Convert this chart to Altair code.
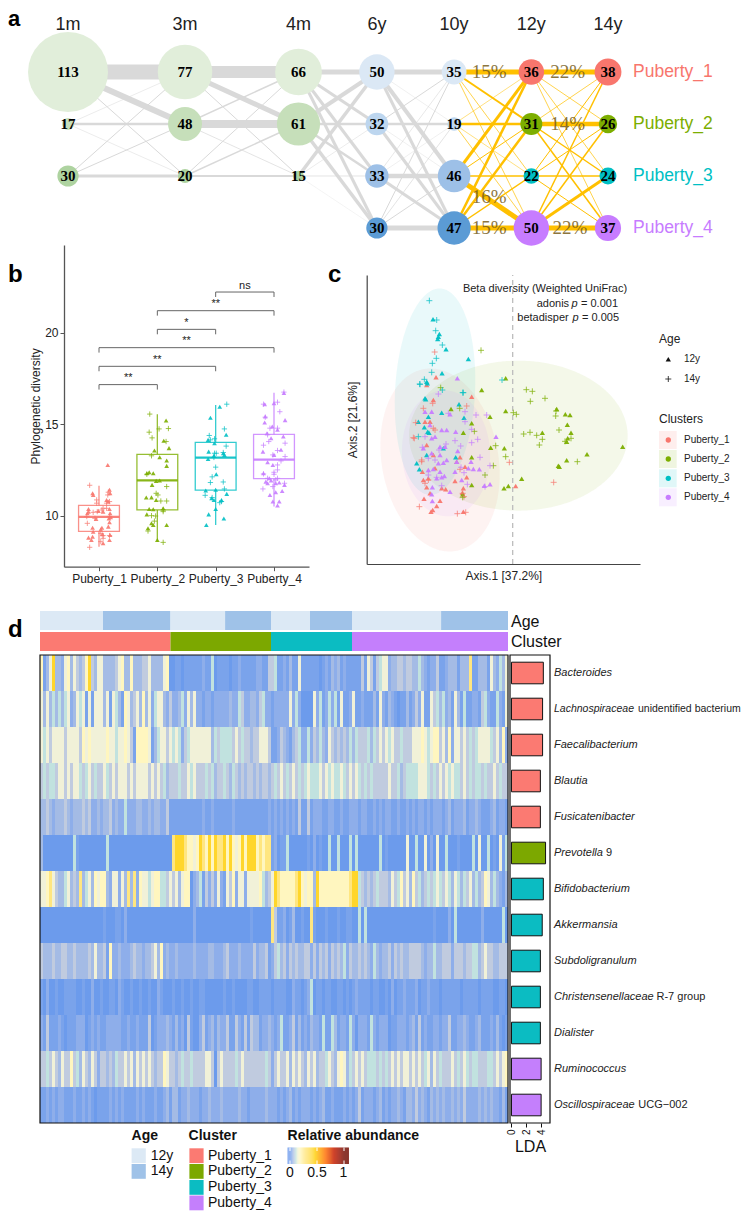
import numpy as np
import pandas as pd
import altair as alt

PW = 733
W, H = 733, 1206
SANS, SERIF = "Liberation Sans", "Liberation Serif"
CL = ["Puberty_1", "Puberty_2", "Puberty_3", "Puberty_4"]
CC = ["#F8766D", "#7CAE00", "#00BFC4", "#C77CFF"]
PLUS = "M-1,0L1,0M0,-1L0,1"

# ---------- panel a
times = ["1m", "3m", "4m", "6y", "10y", "12y", "14y"]
time_pos = [0, 1, 1.97, 2.64, 3.3, 3.96, 4.615]
counts = [[113, 17, 30], [77, 48, 20], [66, 61, 15], [50, 32, 33, 30],
          [35, 19, 46, 47], [36, 31, 22, 50], [38, 26, 24, 37]]
green = ["#e1eeda", "#c6dfba", "#aed3a0"]
blue = ["#dbe8f5", "#bdd6ef", "#9dc0e7", "#5b9bd5"]
node_cols = [green, green, green, blue, blue, CC, CC]
flows = [
    [[15, 6, 1], [0.5, 2.5, 0.5], [1, 1, 3]],
    [[12, 5, 1], [1.5, 8, 0.7], [1, 1.5, 2]],
    [[5, 3, 3, 3], [4, 2.5, 2.5, 3.5], [3.5, 0.5, 0.7, 0.3]],
    [[5, 0.4, 4, 3], [1, 2.5, 0.4, 3], [0.6, 0.4, 4.5, 3], [1, 0.7, 1, 5]],
    [[5, 2, 0.7, 0.7], [0.5, 2.5, 0.5, 0.7], [3, 1, 1.5, 5], [2.5, 2.5, 1.5, 5]],
    [[5, 0.7, 0.7, 0.7], [0.7, 4.5, 1.5, 1.5], [1, 1, 1.5, 1], [1.5, 1.5, 3, 5]],
]
pct_text = ["15%", "22%", "14%", "16%", "15%", "22%"]
pct_x = [3.6, 4.27, 4.27, 3.6, 3.6, 4.29]
pct_y = [1.0, 1.0, 2.0, 3.4, 4.0, 4.0]

# ---------- panel b
box_q1 = [9.14, 10.31, 11.4, 12.02]
box_med = [9.93, 11.93, 13.17, 13.06]
box_q3 = [10.56, 13.35, 14.0, 14.44]
box_lo = [8.3, 8.58, 9.49, 10.5]
box_hi = [11.64, 15.54, 16.05, 16.72]
pd_tri = [
 [(.15,12.77),(-.11,11.22),(-.10,11.13),(.18,11.41),(.19,11.22),(-.18,10.36),(-.18,10.22),(-.20,10.13),(.18,10.36),(.19,10.13),(-.05,9.82),(.17,9.85),(.2,9.91),(-.11,9.34),(-.10,9.12),(.05,9.34),(.03,9.25),(.18,9.64),(.16,9.4),(.19,8.94),(.18,8.67),(-.11,8.85),(-.18,8.8),(-.13,8.67),(.07,8.49),(.06,8.98),(.07,10.22),(-.01,10.26),(.13,10.86),(.16,10.77)],
 [(.15,15.2),(-.05,13.56),(.04,13.19),(.16,13.01),(.16,12.72),(.2,13.69),(.11,14.09),(-.18,12.32),(-.14,12.37),(-.07,12.32),(-.02,11.9),(.04,11.92),(-.09,11.68),(-.19,10.99),(-.10,11.0),(-.02,10.86),(-.14,10.36),(-.07,10.35),(.1,10.4),(-.18,10.07),(-.10,9.58),(-.07,9.49),(.16,9.49),(-.16,9.31),(0,8.67)],
 [(.07,15.95),(-.09,15.35),(.18,14.42),(-.13,14.14),(-.02,13.96),(-.12,13.5),(-.03,13.28),(.13,13.41),(-.13,13.1),(.01,12.26),(-.17,11.37),(0,11.41),(.19,11.19),(-.07,10.95),(-.03,10.86),(.1,10.86),(-.12,10.07),(0,10.36),(-.16,9.49),(.14,9.84),(.15,13.32)],
 [(.17,16.7),(-.16,16.09),(0,16.15),(.19,15.22),(-.15,15.42),(-.16,15.09),(-.03,14.87),(.06,14.69),(-.12,14.5),(-.05,14.23),(.16,14.32),(0,13.32),(-.11,12.92),(-.02,12.77),(-.18,12.32),(-.08,12.04),(-.14,11.86),(.03,11.77),(.09,11.81),(.18,11.68),(-.07,11.13),(.14,11.35),(.03,11.28),(-.02,10.77),(.09,10.77),(.06,10.55),(-.11,11.77),(-.05,11.92),(-.19,13.5),(.12,13.6)],
]
pd_plus = [
 [(-.16,11.66),(.16,11.28),(.15,11.13),(.18,10.77),(-.04,10.86),(-.03,10.22),(.07,10.4),(-.10,10.18),(.13,10.4),(.05,10.31),(.18,9.95),(-.21,9.95),(-.07,9.85),(-.2,9.58),(.03,9.03),(.07,8.91),(.07,8.76),(.18,8.91),(.03,8.58),(-.16,8.27),(-.04,10.68),(.13,10.68)],
 [(-.13,15.55),(-.14,14.56),(.03,14.74),(.19,14.76),(-.09,14.25),(.15,14.05),(-.10,13.27),(-.18,12.26),(.16,11.59),(-.02,11.22),(.01,11.13),(.06,10.8),(.16,10.8),(.1,10.22),(-.10,10.0),(-.03,9.98),(-.16,9.16),(.1,8.54),(-.05,9.7),(.1,10.31)],
 [(.19,16.09),(.15,14.74),(-.11,14.38),(-.09,14.14),(-.02,14.2),(.18,13.8),(.01,13.41),(.13,13.45),(-.03,13.18),(0,12.65),(-.06,12.12),(.13,11.84),(-.09,11.81),(.15,11.46),(-.18,11.11),(-.06,10.99),(.1,10.77),(.07,10.71),(-.02,13.41)],
 [(.17,16.75),(-.18,16.09),(.06,16.2),(.1,15.68),(-.15,15.38),(.06,14.78),(-.07,14.78),(-.11,14.42),(.19,13.96),(-.18,13.85),(-.09,14.05),(-.02,13.32),(.06,13.56),(.19,13.23),(.06,12.77),(.12,12.99),(0,12.26),(.06,12.5),(-.18,12.28),(.03,11.95),(.18,11.77),(-.19,11.46),(-.02,11.59),(-.11,12.04),(.06,12.04),(0,12.37)],
]
br_left = [3, 2, 2, 1, 1, 1]
br_right = [4, 4, 3, 4, 3, 2]
br_y = [22.22, 21.2, 20.18, 19.18, 18.16, 17.16]
br_label = ["ns", "**", "*", "**", "**", "**"]

# ---------- panel c (axis values in thousandths)
pc_tri = [
 [(-230,148),(-258,125),(-123,90),(-238,80),(-263,15),(-248,15),(-258,-55),(-158,-92),(-168,-105),(-143,-120),(-233,-125),(-138,-152),(-173,-163),(-268,-160),(-258,-182),(-213,-185),(-201,-188),(-148,-185),(-151,-198),(9,-178),(-266,-216),(-218,-222),(-228,-238),(-240,-250),(-245,-255),(-148,-255),(-253,-155),(-248,-200),(-271,-135),(-238,-85)],
 [(-21,145),(-93,110),(-21,47),(-68,30),(-123,10),(-148,-18),(-185,53),(-25,-65),(-66,-63),(-123,-92),(27,-156),(-13,-178),(-26,-185),(-123,-175),(132,53),(158,37),(172,35),(164,6),(175,-18),(89,-18),(165,-35),(162,-45),(330,-60),(223,-83),(162,-101),(137,-117),(140,-120),(-150,-203)],
 [(-239,322),(-220,278),(-223,270),(-225,263),(-200,232),(-133,203),(-212,160),(-258,135),(-263,85),(-256,130),(-261,82),(-161,67),(-213,42),(-146,27),(-253,30),(-265,-2),(-255,-15),(-251,-18),(-208,-65),(-171,-92),(-288,-110),(-280,-128),(-258,-85),(-283,15)],
 [(-166,145),(-263,45),(-243,45),(-188,37),(-248,5),(-213,-10),(-198,-10),(-171,-15),(-50,-30),(-233,-30),(-243,-35),(-268,-65),(-218,-60),(-203,-60),(-165,-73),(-243,-80),(-218,-85),(-198,-100),(-208,-108),(-223,-110),(-168,-105),(-125,-105),(-238,-127),(-253,-130),(-218,-135),(-173,-135),(-133,-125),(-118,-127),(-100,-128),(-205,-148),(-213,-152),(-228,-155),(-153,-160),(-68,-173),(-85,-177),(-241,-182),(-188,-195),(-243,-203),(-241,-223)],
]
pc_plus = [
 [(-234,224),(-10,-107),(123,-167),(-280,-240),(-166,-261),(-141,-257),(-138,62),(-298,-33),(-268,55),(-158,-128),(-233,-10),(-273,-105),(-253,-160),(-150,-200),(-240,70),(-291,12),(-238,-5),(-295,-35),(-273,-100),(-263,-170),(-146,-210)],
 [(-95,229),(-216,117),(-159,55),(-115,-14),(2,42),(11,37),(41,111),(59,106),(97,85),(53,76),(130,47),(129,32),(139,-10),(33,-22),(52,-17),(72,-26),(89,-38),(80,-55),(157,-44),(175,-35),(-21,-90),(-51,-57),(-83,-145),(194,-105),(-58,-117),(-150,-212)],
 [(-250,378),(-228,320),(-231,288),(-211,245),(-229,205),(-241,190),(-243,163),(-278,127),(-32,140),(-148,102),(-279,128),(-265,142),(-150,102),(-211,110),(-283,-30)],
 [(-223,98),(-143,45),(-110,35),(-78,35),(-193,40),(-143,15),(-123,-8),(-105,-38),(-173,-42),(-123,-48),(-156,-58),(-200,-52),(-271,-62),(-221,-70),(-98,-92),(-68,-117),(-253,-95),(-233,-100),(-146,-138),(-253,-145),(-228,-152),(-136,-173),(-213,-177),(-83,-180),(-263,-30),(-155,-122)],
]
# ellipse centre x, centre y, semi-axis x, semi-axis y, tilt in degrees
ell_par = [(-218, -100, 175, 277, 10), (17, -27, 328, 225, 0), (-233, 105, 120, 310, -3), (-200, -80, 132, 189, 3)]

# ---------- panel d
taxa_it = ["Bacteroides", "Lachnospiraceae", "Faecalibacterium", "Blautia", "Fusicatenibacter", "Prevotella",
           "Bifidobacterium", "Akkermansia", "Subdoligranulum", "Christensenellaceae", "Dialister", "Ruminococcus", "Oscillospiraceae"]
taxa_rest = {"Prevotella": ("9", 52), "Christensenellaceae": ("R-7 group", 102.5), "Oscillospiraceae": ("UCG\u2212002", 84.3)}
long_taxon = ("Lachnospiraceae", "unidentified bacterium", 84.0)
lda = [4.3, 4.2, 4.2, 3.9, 3.9, 4.6, 4.3, 4.15, 3.9, 3.9, 3.9, 4.0, 4.0]
lda_c = [0, 0, 0, 0, 0, 1, 2, 2, 2, 2, 2, 3, 3]
age_end = [21, 43.5, 61.7, 77, 90, 104, 133.7, 156]
age_lab = ["12y", "14y"] * 4
clu_end = [43.5, 77, 104, 156]
levels = [0, .012, .03, .05, .075, .1, .13, .18, .27, .42]
heat_rows = [
 "7136933267 3643479436 6333346733 7333446333 3670011011 1111211501 1110112111 11221144 5112131161 1111101213 2312111114 1641456623 3443443353 2122411233 3133381133 31632536",
 "6363535356 2365616166 6361653176 3463736256 6324223526 3622122122 2223225422 33245221 2222262520 0006251252 5161126112 1113162132 1011312426 1164535231 6315112214 52115216",
 "6564666646 6664767666 6676656676 4177776135 6646565245 6666666354 5555464544 34466641 1243213452 2524353264 3434353544 4535464656 4454446667 6567746372 6646454566 66546372",
 "4545546646 4665456454 4654646664 6466664646 4534445446 5644454534 4543543434 43434434 5464546454 5655564656 5565464654 5454444464 4534555566 6545464656 5546454554 54464544",
 "3343233343 2333434223 2334232252 2233223233 2241111111 1111211211 1111211111 11111121 2121212141 1412221122 1121122212 2112121221 1211212122 1212221231 2223122321 11231221",
 "3000000000 0510000000 0050000000 0000000000 0000899987 7679879798 8979767979 99787881 2011500000 0102010050 0500050500 0000050100 0000600500 6020600500 0100005060 05010615",
 "6678643356 3438356376 7732662638 3827665677 5546463677 0235142426 2164726626 66675346 9877777897 6773977777 7777789954 3434544436 4574637453 4545654653 6535463534 76353213",
 "0000000000 0000000000 0100011020 0000000000 0000000000 0200000000 0000000000 10000008 4112013001 0081000100 0100110050 5000000000 0000000000 0001000020 5000000002 00000050",
 "4333433443 3433334363 3417223222 3433233463 7232232222 2322223322 2342223222 24233412 4534243433 4424243424 3435243343 4325323342 4343344443 2335334442 4443445534 64433444",
 "1020010011 1100100200 1001102100 1001001002 1000100100 1001100000 0100100001 10011110 1111002110 1250110110 0110101211 1101100102 0112111201 1211101111 1101111101 11100110",
 "2141112101 1122201212 1122222112 1121114012 2232131204 1002412313 2241142141 43312232 1251124131 2132215115 3122152022 2152122201 1222123141 2112212241 1223211231 11213101",
 "4454643644 7453643642 4434354464 6364646434 4764434544 5444466404 6444454644 44444542 4644636464 3646344564 3676354646 4555454546 4646646464 5636454446 4546545544 45546467",
 "1121212211 1211212101 1112121211 1121211121 1231331223 2221223222 3222223221 22222322 2121231212 2212123112 1112121241 2221231212 2321332423 2132323223 2324222232 32322131",
]
abund_dom = [0, .03, .075, .13, .18, .27, .45, .65, .8, 1]
abund_col = ["#6c9bec", "#8eaeea", "#c0cbdf", "#f1f1d8", "#fff6bf", "#ffe680", "#ffd200", "#ff6a00", "#c81e00", "#7a1a10"]
AGE_C = {"12y": "#dce9f5", "14y": "#9fc2e8"}

# ---------- helpers
L = []
def px(v):
    return v - 8

def t(s, x, y, size=12, align="left", baseline="middle", color="#000", weight="normal", style="normal", font=SANS, opacity=1, angle=0):
    L.append(alt.Chart(alt.Data(values=[{"t": s}])).mark_text(
        fontSize=size, align=align, baseline=baseline, color=color, fontWeight=weight,
        fontStyle=style, font=font, opacity=opacity, angle=angle
    ).encode(text="t:N", x=alt.value(px(x)), y=alt.value(px(y))))

def box(x1, x2, y1, y2, color, opacity=1):
    L.append(alt.Chart(alt.Data(values=[{"a": 1}])).mark_rect(color=color, opacity=opacity).encode(
        x=alt.value(px(x1)), x2=alt.value(px(x2)), y=alt.value(px(y1)), y2=alt.value(px(y2))))

# ---------- panel a scales
ax_sc = alt.Scale(domain=[-0.513, 5.752], range=[0, PW])
ay_sc = alt.Scale(domain=[-0.231, 4.327], range=[0, 237])
AX = lambda f: alt.X(f, type="quantitative", scale=ax_sc, axis=None)
AY = lambda f: alt.Y(f, type="quantitative", scale=ay_sc, axis=None)

edges = []
for i, m in enumerate(flows):
    for r, row in enumerate(m):
        for c, w in enumerate(row):
            edges.append(dict(x=time_pos[i], x2=time_pos[i + 1], y=r + 1, y2=c + 1, w=w,
                              c="#ffc000" if i >= 4 else "#d9d9d9"))
edges_df = pd.DataFrame(edges)
L.append(alt.Chart(edges_df[edges_df.c == "#d9d9d9"]).mark_rule().encode(
    x=AX("x"), x2="x2:Q", y=AY("y"), y2="y2:Q", size=alt.Size("w:Q", scale=None),
    color=alt.Color("c:N", scale=None)))
L.append(alt.Chart(edges_df[edges_df.c != "#d9d9d9"]).mark_rule().encode(
    x=AX("x"), x2="x2:Q", y=AY("y"), y2="y2:Q", size=alt.Size("w:Q", scale=None),
    color=alt.Color("c:N", scale=None)))
nodes = pd.DataFrame([dict(x=time_pos[i], y=r + 1, n=n, c=node_cols[i][r])
                      for i, col in enumerate(counts) for r, n in enumerate(col)])
L.append(alt.Chart(nodes).mark_circle(opacity=1).encode(
    x=AX("x"), y=AY("y"),
    size=alt.Size("n:Q", legend=None, scale=alt.Scale(type="pow", exponent=2, domain=[0, 113], range=[0, 6400])),
    color=alt.Color("c:N", scale=None)))
L.append(alt.Chart(nodes).mark_text(font=SERIF, fontWeight="bold", fontSize=15, color="#000").encode(
    x=AX("x"), y=AY("y"), text="n:Q"))
L.append(alt.Chart(pd.DataFrame({"x": pct_x, "y": pct_y, "t": pct_text})).mark_text(
    font=SERIF, fontSize=19, color="#7a5f1c", opacity=0.85).encode(x=AX("x"), y=AY("y"), text="t:N"))
L.append(alt.Chart(pd.DataFrame({"x": time_pos, "t": times, "y": [0.096] * 7})).mark_text(
    font=SANS, fontSize=18, color="#222").encode(x=AX("x"), y=AY("y"), text="t:N"))
for r, (n, c) in enumerate(zip(CL, CC)):
    t(n, 633, 72 + 52 * r, size=17.5, color=c, weight="normal")

# ---------- panel b
bx_sc = alt.Scale(domain=[0.4, 4.6], range=[px(64), px(309)])
by_sc = alt.Scale(domain=[7.21, 24.79], range=[px(566.7), px(245)], nice=False, zero=False)
BX = lambda f, axis=None: alt.X(f, type="quantitative", scale=bx_sc, axis=axis, title=None)
BY = lambda f, axis=None: alt.Y(f, type="quantitative", scale=by_sc, axis=axis, title=None)
bxa = alt.Axis(orient="bottom", offset=-(H - px(566.7)), values=[1, 2, 3, 4], labelExpr="'Puberty_' + datum.value",
               grid=False, domainColor="#555", domainWidth=1.3, tickColor="#555", tickSize=4, labelFontSize=12,
               labelColor="#222", labelFont=SANS, title=None, labelOverlap=False, labelPadding=3)
bya = alt.Axis(orient="left", offset=-px(64), values=[10, 15, 20], grid=False, domainColor="#555", domainWidth=1.3,
               tickColor="#555", tickSize=4, labelFontSize=12, labelColor="#222", labelFont=SANS,
               title="Phylogenetic diversity", titleFontSize=12, titleFontWeight="normal", titleFont=SANS,
               titleColor="#222", titlePadding=2)
bdf = pd.DataFrame({"x": [1, 2, 3, 4], "q1": box_q1, "med": box_med, "q3": box_q3, "lo": box_lo, "hi": box_hi, "c": CC})
bdf["l"] = bdf.x - .35
bdf["r"] = bdf.x + .35
L.append(alt.Chart(bdf).mark_rule(strokeWidth=1.3, opacity=.8).encode(
    x=alt.X("x", type="quantitative", scale=bx_sc, axis=bxa),
    y=alt.Y("lo", type="quantitative", scale=by_sc, axis=bya), y2="q1:Q", color=alt.Color("c:N", scale=None)))
L.append(alt.Chart(bdf).mark_rule(strokeWidth=1.3, opacity=.8).encode(
    x=BX("x"), y=BY("q3"), y2="hi:Q", color=alt.Color("c:N", scale=None)))
L.append(alt.Chart(bdf).mark_rect(fillOpacity=0, strokeWidth=1.3, strokeOpacity=.8).encode(
    x=BX("l"), x2="r:Q", y=BY("q1"), y2="q3:Q", stroke=alt.Stroke("c:N", scale=None)))
L.append(alt.Chart(bdf).mark_rule(strokeWidth=2.2, opacity=.9).encode(
    x=BX("l"), x2="r:Q", y=BY("med"), color=alt.Color("c:N", scale=None)))
rows = [dict(x=i + 1 + o, y=v, c=CC[i]) for i, s in enumerate(pd_tri) for o, v in s]
L.append(alt.Chart(pd.DataFrame(rows)).mark_point(shape="triangle-up", filled=True, size=22, opacity=.9, strokeWidth=0).encode(
    x=BX("x"), y=BY("y"), color=alt.Color("c:N", scale=None)))
rows = [dict(x=i + 1 + o, y=v, c=CC[i]) for i, s in enumerate(pd_plus) for o, v in s]
L.append(alt.Chart(pd.DataFrame(rows)).mark_point(shape=PLUS, filled=False, size=28, opacity=.9, strokeWidth=.8).encode(
    x=BX("x"), y=BY("y"), color=alt.Color("c:N", scale=None)))
brd = pd.DataFrame({"l": br_left, "r": br_right, "y": br_y, "t": br_label})
brd["tip"] = brd.y - .27
brd["m"] = (brd.l + brd.r) / 2
brd["ty"] = brd.y + .34
for enc in [dict(x=BX("l"), x2="r:Q", y=BY("y")), dict(x=BX("l"), y=BY("tip"), y2="y:Q"), dict(x=BX("r"), y=BY("tip"), y2="y:Q")]:
    L.append(alt.Chart(brd).mark_rule(color="#666", strokeWidth=1).encode(**enc))
L.append(alt.Chart(brd).mark_text(fontSize=11, font=SANS, color="#222", baseline="middle").encode(
    x=BX("m"), y=BY("ty"), text="t:N"))

# ---------- panel c
cx_sc = alt.Scale(domain=[-.438, .382], range=[px(366.7), px(640)], nice=False, zero=False)
cy_sc = alt.Scale(domain=[-.412, .455], range=[px(564), px(275)], nice=False, zero=False)
CXe = lambda f, axis=None: alt.X(f, type="quantitative", scale=cx_sc, axis=axis, title=None)
CYe = lambda f, axis=None: alt.Y(f, type="quantitative", scale=cy_sc, axis=axis, title=None)
cxa = alt.Axis(orient="bottom", offset=-(H - px(564)), labels=False, ticks=False, grid=False, domainColor="#444",
               domainWidth=1.2, title="Axis.1 [37.2%]", titleFontSize=12, titleFontWeight="normal", titleFont=SANS,
               titleColor="#222", titlePadding=6)
cya = alt.Axis(orient="left", offset=-px(366.7), labels=False, ticks=False, grid=False, domainColor="#444",
               domainWidth=1.2, title="Axis.2 [21.6%]", titleFontSize=12, titleFontWeight="normal", titleFont=SANS,
               titleColor="#222", titlePadding=7)
def ellipse(cx, cy, a, b, deg):
    th = np.radians(deg)
    cs, sn = np.cos(th), np.sin(th)
    A = (cs / a) ** 2 + (sn / b) ** 2
    B = 2 * cs * sn * (1 / a ** 2 - 1 / b ** 2)
    C = (sn / a) ** 2 + (cs / b) ** 2
    wx = np.sqrt((a * cs) ** 2 + (b * sn) ** 2)
    dx = -wx * np.cos(np.linspace(0, np.pi, 220))
    disc = np.clip((B * dx) ** 2 - 4 * C * (A * dx ** 2 - 1), 0, None)
    y1 = (-B * dx - np.sqrt(disc)) / (2 * C)
    y2 = (-B * dx + np.sqrt(disc)) / (2 * C)
    return pd.DataFrame({"x": (cx + dx) / 1000, "y": (cy + y1) / 1000, "y2": (cy + y2) / 1000})
for i, p in enumerate(ell_par):
    L.append(alt.Chart(ellipse(*p)).mark_area(color=CC[i], opacity=.085).encode(
        x=CXe("x"), y=CYe("y"), y2="y2:Q"))
L.append(alt.Chart(pd.DataFrame({"x": [0.0], "y": [-.412], "y2": [.455]})).mark_rule(
    color="#bdbdbd", strokeDash=[5, 4], strokeWidth=1.3).encode(
    x=alt.X("x", type="quantitative", scale=cx_sc, axis=cxa),
    y=alt.Y("y", type="quantitative", scale=cy_sc, axis=cya), y2="y2:Q"))
rows = [dict(x=a / 1000, y=b / 1000, c=CC[i]) for i, s in enumerate(pc_tri) for a, b in s]
L.append(alt.Chart(pd.DataFrame(rows)).mark_point(shape="triangle-up", filled=True, size=28, opacity=.95, strokeWidth=0).encode(
    x=CXe("x"), y=CYe("y"), color=alt.Color("c:N", scale=None)))
rows = [dict(x=a / 1000, y=b / 1000, c=CC[i]) for i, s in enumerate(pc_plus) for a, b in s]
L.append(alt.Chart(pd.DataFrame(rows)).mark_point(shape=PLUS, filled=False, size=36, opacity=.9, strokeWidth=.8).encode(
    x=CXe("x"), y=CYe("y"), color=alt.Color("c:N", scale=None)))
t("Beta diversity (Weighted UniFrac)", 545, 289, size=11, align="center", color="#222")
t("adonis", 536.7, 303.5, size=11, color="#222")
t("p", 571.5, 303.5, size=11, style="italic", color="#222")
t("= 0.001", 581, 303.5, size=11, color="#222")
t("betadisper", 517.3, 318, size=11, color="#222")
t("p", 572.5, 318, size=11, style="italic", color="#222")
t("= 0.005", 582, 318, size=11, color="#222")
t("Age", 659, 339, size=12, color="#222")
t("Clusters", 659, 419, size=12, color="#222")
for sh, sz, y, lab, filled in [("triangle-up", 28, 359.3, "12y", True), (PLUS, 36, 379, "14y", False)]:
    L.append(alt.Chart(alt.Data(values=[{"a": 1}])).mark_point(
        shape=sh, size=sz, filled=filled, color="#111", opacity=1, strokeWidth=0 if filled else .8
    ).encode(x=alt.value(px(668.3)), y=alt.value(px(y))))
    t(lab, 684, y, size=10, color="#222")
for i, (n, c, y) in enumerate(zip(CL, CC, [440, 459, 478.3, 497.3])):
    box(659, 676.7, y - 9, y + 9, c, .12)
    L.append(alt.Chart(alt.Data(values=[{"a": 1}])).mark_circle(color=c, size=28, opacity=1).encode(
        x=alt.value(px(668.3)), y=alt.value(px(y))))
    t(n, 684, y, size=10, color="#222")

# ---------- panel d
hx_sc = alt.Scale(domain=[0, 156], range=[px(40), px(508)], nice=False, zero=False)
hy_sc = alt.Scale(domain=[0, 13], range=[px(655), px(1123)], nice=False, zero=False)
HX = lambda f: alt.X(f, type="quantitative", scale=hx_sc, axis=None, title=None)
HY = lambda f: alt.Y(f, type="quantitative", scale=hy_sc, axis=None, title=None)
cells = []
for r, s in enumerate(heat_rows):
    s = (s.replace(" ", "") + "1" * 156)[:156]
    for c, d in enumerate(s):
        cells.append(dict(c=c, c2=c + 1, r=r, r2=r + 1, v=levels[int(d)]))
abund_sc = alt.Scale(domain=abund_dom, range=abund_col, clamp=True)
L.append(alt.Chart(pd.DataFrame(cells)).mark_rect().encode(
    x=HX("c"), x2="c2:Q", y=HY("r"), y2="r2:Q",
    color=alt.Color("v:Q", scale=abund_sc, legend=None)))
L.append(alt.Chart(pd.DataFrame({"a": [0], "b": [156], "r": [0], "r2": [13]})).mark_rect(
    fillOpacity=0, stroke="#111", strokeWidth=1.2).encode(x=HX("a"), x2="b:Q", y=HY("r"), y2="r2:Q"))
# annotation strips, same horizontal scale as the heat map
a_start = [0] + age_end[:-1]
L.append(alt.Chart(pd.DataFrame({"a": a_start, "b": age_end, "c": [AGE_C[k] for k in age_lab]})).mark_rect().encode(
    x=HX("a"), x2="b:Q", y=alt.value(px(611)), y2=alt.value(px(630)), color=alt.Color("c:N", scale=None)))
L.append(alt.Chart(pd.DataFrame({"a": [0] + clu_end[:-1], "b": clu_end, "c": ["#FB7A72", "#7CA800", "#0BBCC2", "#C47FFC"]})).mark_rect().encode(
    x=HX("a"), x2="b:Q", y=alt.value(px(632)), y2=alt.value(px(651)), color=alt.Color("c:N", scale=None)))
t("Age", 511, 621.5, size=16, color="#111")
t("Cluster", 511, 641.5, size=16, color="#111")

# LDA bars
lx_sc = alt.Scale(domain=[-.2, 5.2], range=[px(510), px(550)], nice=False, zero=False)
lxa = alt.Axis(orient="bottom", offset=-(H - px(1123)), values=[0, 2, 4], grid=False, domainOpacity=0, tickColor="#111",
               tickSize=4, labelAngle=270, labelAlign="right", labelBaseline="middle", labelFontSize=10, labelColor="#111",
               labelFont=SANS, labelPadding=2, title="LDA", titleFontSize=16, titleFontWeight="normal", titleFont=SANS,
               titleColor="#111", titlePadding=4)
ldf = pd.DataFrame({"a": 0.0, "v": lda, "r": [i + .2 for i in range(13)], "r2": [i + .8 for i in range(13)],
                    "m": [i + .5 for i in range(13)], "c": [["#FB7A72", "#7CA800", "#0BBCC2", "#C47FFC"][k] for k in lda_c], "t": taxa_it})
L.append(alt.Chart(ldf).mark_rect(stroke="#111", strokeWidth=1).encode(
    x=alt.X("a", type="quantitative", scale=lx_sc, axis=None), x2="v:Q", y=HY("r"), y2="r2:Q", color=alt.Color("c:N", scale=None)))
L.append(alt.Chart(pd.DataFrame({"a": [-.2], "b": [5.2], "r": [0], "r2": [13]})).mark_rect(
    fillOpacity=0, stroke="#111", strokeWidth=1.2).encode(
    x=alt.X("a", type="quantitative", scale=lx_sc, axis=lxa, title=None), x2="b:Q", y=HY("r"), y2="r2:Q"))
L.append(alt.Chart(ldf[ldf.t != long_taxon[0]]).mark_text(font=SANS, fontSize=11, fontStyle="italic", align="left", color="#222").encode(
    x=alt.value(px(554)), y=HY("m"), text="t:N"))
L.append(alt.Chart(ldf[ldf.t == long_taxon[0]]).mark_text(font=SANS, fontSize=10.5, fontStyle="italic", align="left", color="#222").encode(
    x=alt.value(px(554)), y=HY("m"), text="t:N"))
L.append(alt.Chart(ldf[ldf.t == long_taxon[0]].assign(s=long_taxon[1])).mark_text(font=SANS, fontSize=10.5, align="left", color="#222").encode(
    x=alt.value(px(554 + long_taxon[2])), y=HY("m"), text="s:N"))
for name, (rest, dx) in taxa_rest.items():
    L.append(alt.Chart(ldf[ldf.t == name].assign(s=rest)).mark_text(font=SANS, fontSize=11, align="left", color="#222").encode(
        x=alt.value(px(554 + dx)), y=HY("m"), text="s:N"))

# bottom legends
t("Age", 131.6, 1136, size=14, weight="bold", color="#111")
t("Cluster", 188.6, 1136, size=14, weight="bold", color="#111")
t("Relative abundance", 287.6, 1136, size=14, weight="bold", color="#111")
for (lab, c), y in zip(AGE_C.items(), [1148.3, 1164]):
    box(131.6, 145.8, y, y + 14.8, c)
    t(lab, 150.7, y + 7.4, size=14, color="#111")
for n, c, y in zip(CL, ["#FB7A72", "#7CA800", "#0BBCC2", "#C47FFC"], [1148.3, 1164, 1180, 1195.5]):
    box(189.4, 203.6, y, y + 14.8, c)
    t(n, 208, y + 7.4, size=14, color="#111")
gx_sc = alt.Scale(domain=[0, 1], range=[px(290), px(344)], nice=False, zero=False)
g = np.round(np.linspace(-.045, 1.09, 62), 4)
gd = pd.DataFrame({"a": g[:-1], "b": g[1:]})
L.append(alt.Chart(gd).mark_rect().encode(
    x=alt.X("a", type="quantitative", scale=gx_sc, axis=None), x2="b:Q",
    y=alt.value(px(1147.5)), y2=alt.value(px(1164)),
    color=alt.Color("a:Q", scale=abund_sc, legend=None)))
for y1, y2 in [(1147.5, 1151), (1160.5, 1164)]:
    L.append(alt.Chart(pd.DataFrame({"x": [0, .5, 1]})).mark_rule(color="#fff", strokeWidth=1).encode(
        x=alt.X("x", type="quantitative", scale=gx_sc, axis=None), y=alt.value(px(y1)), y2=alt.value(px(y2))))
for lab, x in [("0", 290), ("0.5", 317), ("1", 343.5)]:
    t(lab, x, 1172.7, size=14, align="center", color="#111")

# panel letters
for s, x, y, sz in [("a", 8, 26, 22), ("b", 8, 282, 24), ("c", 328, 282, 24), ("d", 8, 637, 24)]:
    t(s, x, y, size=sz, weight="bold", baseline="alphabetic", color="#000")

chart = (alt.layer(*L)
         .resolve_scale(x="independent", y="independent", color="independent", size="independent", stroke="independent")
         .resolve_axis(x="independent", y="independent")
         .properties(width=W, height=H, padding=0, autosize=alt.AutoSizeParams(type="none"))
         .configure(font=SANS)
         .configure_view(stroke=None))
chart.save("out.html", embed_options={"renderer": "svg", "actions": False})
